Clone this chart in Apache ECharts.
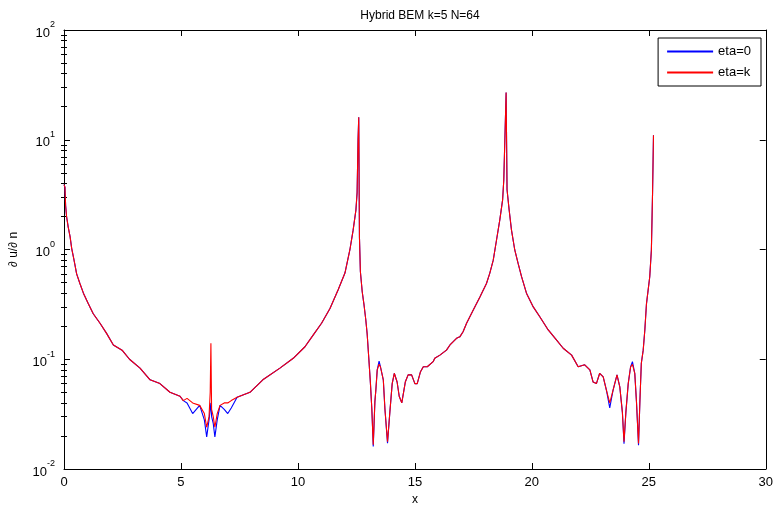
<!DOCTYPE html>
<html><head><meta charset="utf-8">
<script src="https://cdn.jsdelivr.net/npm/echarts@6/dist/echarts.min.js"></script>
<style>html,body{margin:0;padding:0;background:#fff}#c{width:776px;height:514px}</style>
</head><body><div id="c"></div>
<script>
const chartTitle = 'Hybrid BEM k=5 N=64';
const xLabel = 'x';
const yLabel = '\u2202 u/\u2202 n';
const seriesNames = ['eta=0', 'eta=k'];
const seriesColors = ['#0000ff', '#ff0000'];
const xTicks = [0, 5, 10, 15, 20, 25, 30];
const yTicks = [0.01, 0.1, 1, 10, 100];
const yMinorTicks = [0.02,0.03,0.04,0.05,0.06,0.07,0.08,0.09,0.2,0.3,0.4,0.5,0.6,0.7,0.8,0.9,2,3,4,5,6,7,8,9,20,30,40,50,60,70,80,90];

const xs = [0,0.04,0.07,0.11,0.18,0.26,0.33,0.40,0.47,0.54,0.68,0.83,1.04,1.25,1.54,1.82,2.11,2.5,2.8,3.25,3.68,4.1,4.53,4.96,5.1,5.26,5.5,5.8,6.0,6.1,6.2,6.25,6.28,6.31,6.38,6.45,6.55,6.67,6.85,7.0,7.15,7.4,7.95,8.5,9.23,9.8,10.3,10.65,11.01,11.37,11.72,12.01,12.22,12.36,12.48,12.53,12.57,12.6,12.63,12.67,12.75,12.82,12.9,12.96,13.03,13.1,13.16,13.22,13.29,13.33,13.39,13.47,13.53,13.65,13.72,13.83,13.93,14.03,14.12,14.24,14.33,14.44,14.59,14.71,14.86,15.0,15.1,15.24,15.36,15.53,15.78,15.85,16.07,16.35,16.5,16.78,16.92,17.06,17.21,17.49,17.78,18.06,18.2,18.35,18.49,18.63,18.75,18.8,18.85,18.9,18.94,19.03,19.13,19.27,19.41,19.56,19.77,20.06,20.34,20.7,21.05,21.34,21.7,21.98,22.26,22.48,22.62,22.76,22.9,23.05,23.19,23.33,23.47,23.64,23.76,23.87,23.94,24.02,24.12,24.22,24.3,24.4,24.47,24.56,24.62,24.68,24.76,24.83,24.9,25.04,25.11,25.16,25.2];

const etaK = [3.9,3.7,2.5,2.0,1.6,1.31,1.02,0.86,0.72,0.60,0.49,0.40,0.32,0.26,0.213,0.172,0.135,0.12,0.10,0.083,0.065,0.06,0.05,0.046,0.042,0.044,0.040,0.038,0.032,0.024,0.030,0.05,0.14,0.035,0.030,0.024,0.032,0.038,0.040,0.040,0.042,0.045,0.050,0.065,0.083,0.102,0.13,0.166,0.213,0.29,0.43,0.61,0.99,1.5,2.3,3.3,10,16,1.3,0.63,0.41,0.32,0.23,0.17,0.102,0.06,0.035,0.0166,0.041,0.052,0.08,0.090,0.085,0.065,0.035,0.0177,0.033,0.06,0.0745,0.062,0.046,0.040,0.062,0.072,0.072,0.060,0.060,0.077,0.0855,0.0855,0.095,0.102,0.109,0.121,0.135,0.155,0.16,0.178,0.213,0.28,0.37,0.49,0.607,0.80,1.22,1.86,2.83,4.3,10.7,27,3.5,2.29,1.5,0.99,0.75,0.565,0.40,0.30,0.244,0.185,0.15,0.126,0.109,0.0855,0.089,0.08,0.062,0.06,0.0745,0.069,0.052,0.040,0.052,0.072,0.056,0.033,0.0177,0.033,0.06,0.085,0.090,0.0745,0.042,0.0171,0.042,0.092,0.121,0.185,0.32,0.565,0.99,3.26,11];

const eta0 = [3.9,3.7,2.5,2.0,1.6,1.31,1.02,0.86,0.72,0.60,0.49,0.40,0.32,0.26,0.213,0.172,0.135,0.12,0.10,0.083,0.065,0.06,0.05,0.046,0.042,0.040,0.032,0.038,0.028,0.0196,0.028,0.035,0.04,0.03,0.026,0.0196,0.028,0.038,0.035,0.032,0.036,0.045,0.050,0.065,0.083,0.102,0.13,0.166,0.213,0.29,0.43,0.61,0.99,1.5,2.3,3.3,10,16,1.3,0.63,0.41,0.32,0.23,0.17,0.102,0.06,0.035,0.016,0.041,0.052,0.08,0.096,0.085,0.065,0.035,0.0172,0.033,0.06,0.0745,0.062,0.046,0.040,0.062,0.072,0.072,0.060,0.060,0.077,0.0855,0.0855,0.095,0.102,0.109,0.121,0.135,0.155,0.16,0.178,0.213,0.28,0.37,0.49,0.607,0.80,1.22,1.86,2.83,4.3,10.7,27,3.5,2.29,1.5,0.99,0.75,0.565,0.40,0.30,0.244,0.185,0.15,0.126,0.109,0.0855,0.089,0.08,0.062,0.06,0.0745,0.069,0.052,0.036,0.052,0.072,0.056,0.033,0.017,0.033,0.06,0.085,0.095,0.0745,0.042,0.0165,0.042,0.092,0.121,0.185,0.32,0.565,0.99,3.26,11];

const FONT = 'Liberation Sans, Arial, sans-serif';
const black = '#000';
const pair = (vals) => xs.map((x, i) => [x, vals[i]]);

const chart = echarts.init(document.getElementById('c'), null, {renderer: 'canvas'});
const baseX = {
  type: 'value', min: 0, max: 30, interval: 5,
  axisLine: {show: true, onZero: false, lineStyle: {color: black, width: 1}},
  axisTick: {show: true, inside: true, length: 6, lineStyle: {color: black}},
  splitLine: {show: false}
};
function supLabel(v) {
  const e = Math.round(Math.log10(v));
  return '{b|10}{s|' + e + '}';
}
const rich = {
  b: {fontSize: 13, fontFamily: FONT, color: black, verticalAlign: 'bottom'},
  s: {fontSize: 9, fontFamily: FONT, color: black, verticalAlign: 'top', padding: [0, 0, 10, 0]}
};
const baseY = {
  type: 'log', logBase: 10, min: 0.01, max: 100,
  axisLine: {show: true, onZero: false, lineStyle: {color: black, width: 1}},
  splitLine: {show: false},
  minorTick: {show: false}
};
chart.setOption({
  animation: false,
  backgroundColor: '#fff',
  title: {text: chartTitle, left: 415, top: 5, textAlign: 'center',
    textStyle: {fontFamily: FONT, fontSize: 12, fontWeight: 'normal', color: black}},
  grid: {left: 64, top: 30, right: 10, bottom: 45, containLabel: false},
  legend: {
    orient: 'vertical', right: 15, top: 38,
    data: seriesNames.map((n, i) => ({name: n, icon: 'rect', itemStyle: {color: seriesColors[i]}})),
    backgroundColor: '#fff', borderColor: black, borderWidth: 1,
    padding: [7, 10, 7, 9], itemGap: 8, itemWidth: 46, itemHeight: 2,
    textStyle: {fontFamily: FONT, fontSize: 13, color: black}
  },
  xAxis: [
    Object.assign({}, baseX, {position: 'bottom', name: xLabel, nameLocation: 'middle', nameGap: 24,
      nameTextStyle: {fontFamily: FONT, fontSize: 12, color: black},
      axisLabel: {show: true, margin: 7, fontFamily: FONT, fontSize: 13, color: black}}),
    Object.assign({}, baseX, {position: 'top', axisLabel: {show: false}})
  ],
  yAxis: [
    Object.assign({}, baseY, {position: 'left', name: yLabel, nameLocation: 'middle', nameGap: 44,
      nameTextStyle: {fontFamily: FONT, fontSize: 12, color: black},
      axisTick: {show: true, inside: true, length: 6, lineStyle: {color: black}, customValues: yTicks},
      axisLabel: {show: true, margin: 9, formatter: supLabel, rich: rich, customValues: yTicks}}),
    Object.assign({}, baseY, {position: 'right',
      axisTick: {show: true, inside: true, length: 6, lineStyle: {color: black}, customValues: yTicks},
      axisLabel: {show: false}}),
    Object.assign({}, baseY, {position: 'left',
      axisLine: {show: false},
      axisTick: {show: true, inside: true, length: 3, lineStyle: {color: black}, customValues: yMinorTicks},
      axisLabel: {show: false}}),
    Object.assign({}, baseY, {position: 'right',
      axisLine: {show: false},
      axisTick: {show: true, inside: true, length: 3, lineStyle: {color: black}, customValues: yMinorTicks},
      axisLabel: {show: false}})
  ],
  series: [
    {name: seriesNames[0], type: 'line', data: pair(eta0), showSymbol: false, symbol: 'none',
      lineStyle: {color: seriesColors[0], width: 1.1}, itemStyle: {color: seriesColors[0]}, z: 2},
    {name: seriesNames[1], type: 'line', data: pair(etaK), showSymbol: false, symbol: 'none',
      lineStyle: {color: seriesColors[1], width: 1.1}, itemStyle: {color: seriesColors[1]}, z: 3}
  ]
});
</script>
</body></html>
